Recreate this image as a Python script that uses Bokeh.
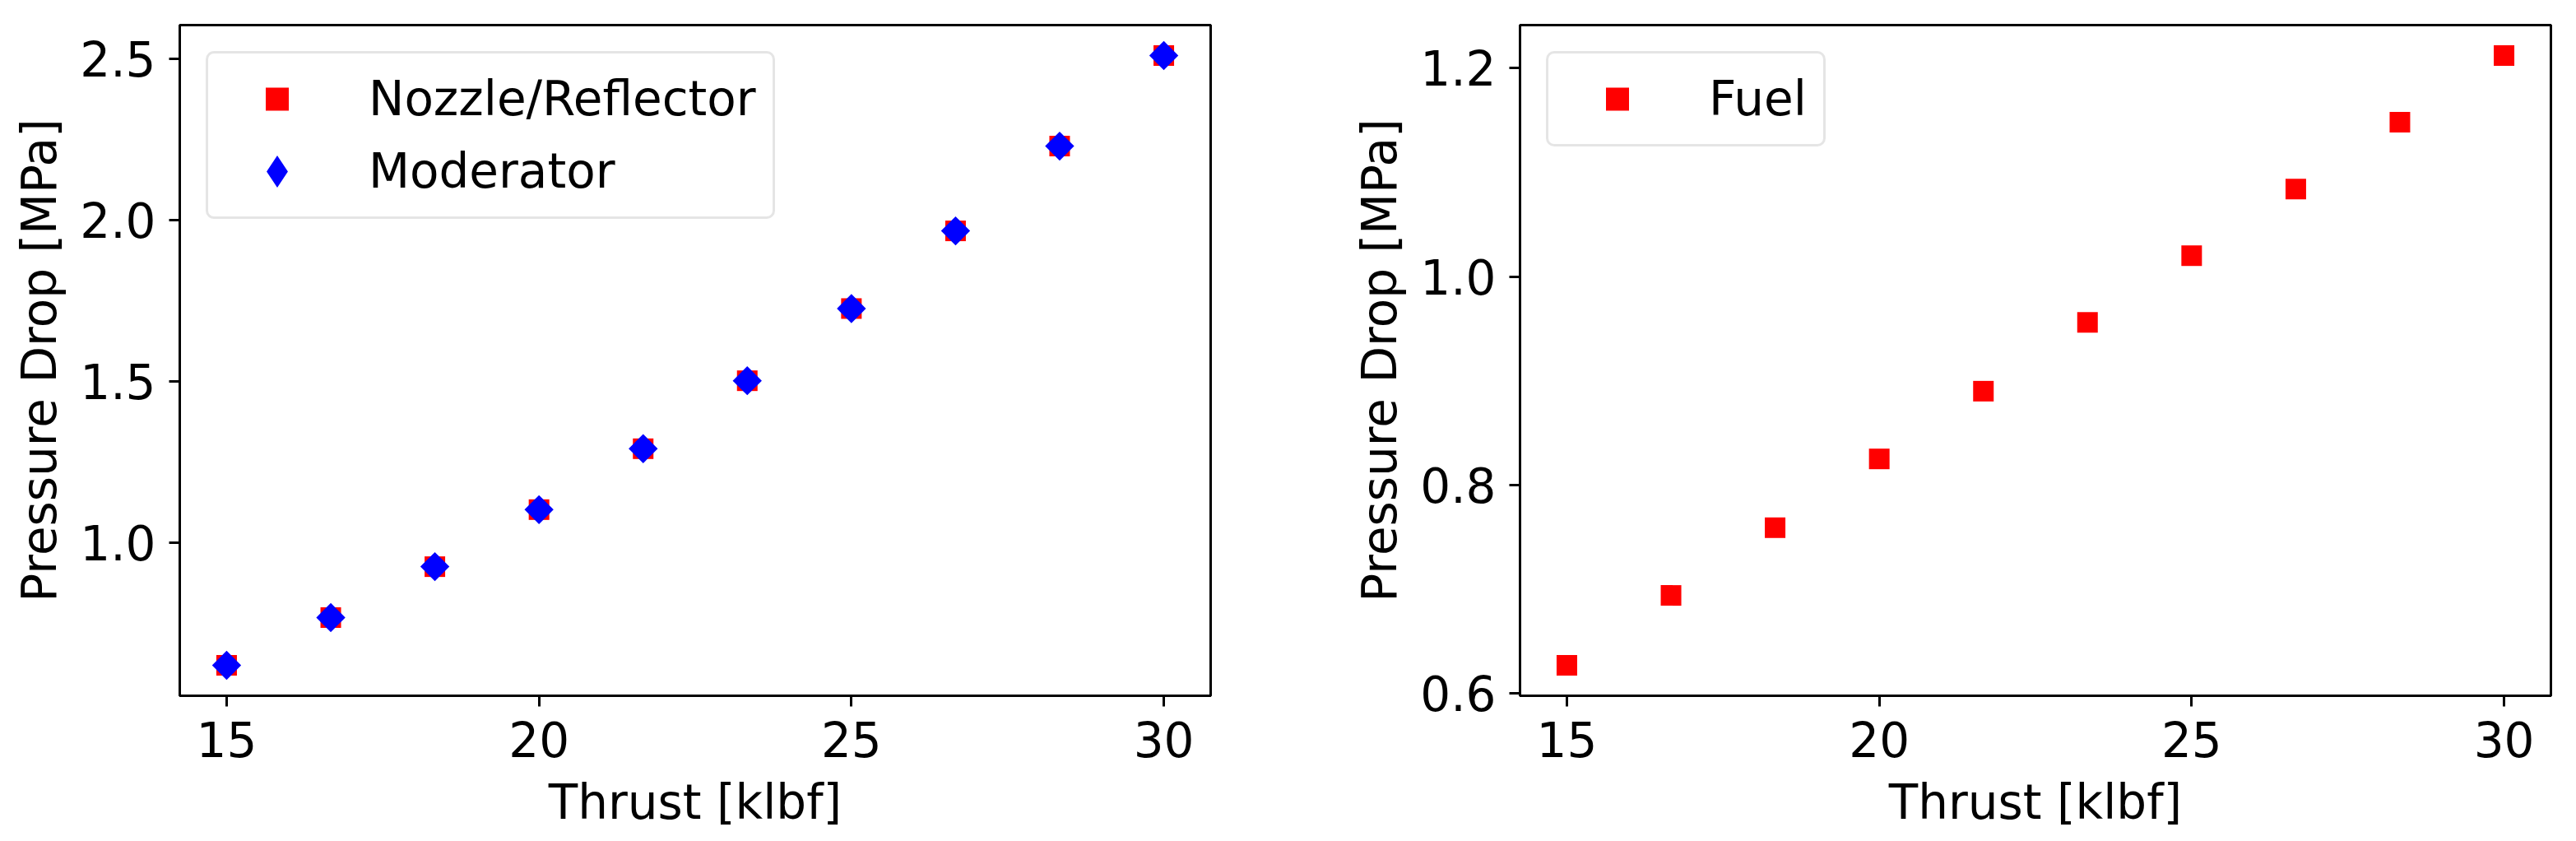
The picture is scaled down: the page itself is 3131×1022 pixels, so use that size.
import math
from bokeh.plotting import figure
from bokeh.layouts import row
from bokeh.models import (Range1d, FixedTicker, Legend, LegendItem, ColumnDataSource,
                          PrintfTickFormatter, CDSView, IndexFilter)
from bokeh.embed import file_html
from bokeh.resources import INLINE

# ---- data ----
thrust = [15.0, 16.667, 18.333, 20.0, 21.667, 23.333, 25.0, 26.667, 28.333, 30.0]
nozzle_reflector = [0.619, 0.767, 0.925, 1.102, 1.291, 1.502, 1.726, 1.967, 2.230, 2.511]
moderator = [0.619, 0.767, 0.925, 1.102, 1.291, 1.502, 1.726, 1.967, 2.230, 2.511]
fuel = [0.627, 0.694, 0.759, 0.825, 0.890, 0.956, 1.020, 1.084, 1.148, 1.212]
x_ticks = [15, 20, 25, 30]
y_ticks_left = [1.0, 1.5, 2.0, 2.5]
y_ticks_right = [0.6, 0.8, 1.0, 1.2]
x_label = "Thrust [klbf]"
y_label = "Pressure Drop [MPa]"

FONT = "DejaVu Sans"
FS = "58px"


def padded(vals, frac=0.05):
    lo, hi = min(vals), max(vals)
    d = (hi - lo) * frac
    return lo - d, hi + d


def make_fig(ylo, yhi, yticks, border_left, border_right):
    xlo, xhi = padded(thrust)
    p = figure(output_backend="svg", toolbar_location=None,
               frame_width=1253, frame_height=815,
               min_border_left=border_left, min_border_right=border_right,
               min_border_top=30, min_border_bottom=150,
               x_range=Range1d(xlo, xhi), y_range=Range1d(ylo, yhi))
    p.background_fill_color = "white"
    p.border_fill_color = "white"
    p.outline_line_color = "black"
    p.outline_line_width = 3
    p.xgrid.visible = False
    p.ygrid.visible = False
    p.xaxis.ticker = FixedTicker(ticks=x_ticks)
    p.yaxis.ticker = FixedTicker(ticks=yticks)
    p.yaxis.formatter = PrintfTickFormatter(format="%.1f")
    p.xaxis.axis_label = x_label
    p.yaxis.axis_label = y_label
    for ax in (p.xaxis, p.yaxis):
        ax.axis_line_color = "black"
        ax.axis_line_width = 3
        ax.major_tick_line_color = "black"
        ax.major_tick_line_width = 3
        ax.major_tick_out = 13
        ax.major_tick_in = 0
        ax.minor_tick_line_color = None
        ax.major_label_text_font = FONT
        ax.major_label_text_font_size = FS
        ax.major_label_text_color = "black"
        ax.axis_label_text_font = FONT
        ax.axis_label_text_font_size = FS
        ax.axis_label_text_font_style = "normal"
        ax.axis_label_text_color = "black"
    p.xaxis.major_label_standoff = 18
    p.xaxis.axis_label_standoff = 18
    p.yaxis.major_label_standoff = 16
    p.yaxis.axis_label_standoff = 12
    return p


def style_legend(leg):
    leg.location = "top_left"
    leg.margin = 32
    leg.padding = 20
    leg.spacing = 18
    leg.glyph_width = 127
    leg.glyph_height = 70
    leg.label_height = 70
    leg.label_standoff = 48
    leg.label_text_font = FONT
    leg.label_text_font_size = FS
    leg.label_text_color = "black"
    leg.border_line_color = "#cccccc"
    leg.border_line_width = 3
    leg.background_fill_color = "white"
    leg.background_fill_alpha = 0.8
    if "border_radius" in leg.properties():
        leg.border_radius = 10


# ---- left figure ----
ylo, yhi = padded(nozzle_reflector + moderator)
p1 = make_fig(ylo, yhi, y_ticks_left, 218, 81)
src1 = ColumnDataSource(dict(x=thrust, nr=nozzle_reflector, mod=moderator))
r_nr = p1.scatter("x", "nr", source=src1, marker="square", size=25,
                  fill_color="#ff0000", line_color="#ff0000", line_width=0)
# legend swatch for the diamond series (legend glyphs are never rotated);
# drawn at one real moderator point, fully covered by the rotated square below
r_mod_key = p1.scatter("x", "mod", source=src1, view=CDSView(filter=IndexFilter([0])),
                       marker="diamond", size=22,
                       fill_color="#0000ff", line_color="#0000ff", line_width=6,
                       line_join="miter")
r_mod = p1.scatter("x", "mod", source=src1, marker="square", size=25, angle=math.pi / 4,
                   fill_color="#0000ff", line_color="#0000ff", line_width=0)
leg1 = Legend(items=[LegendItem(label="Nozzle/Reflector", renderers=[r_nr]),
                     LegendItem(label="Moderator", renderers=[r_mod_key])])
style_legend(leg1)
p1.add_layout(leg1, "center")

# ---- right figure ----
ylo2, yhi2 = padded(fuel)
p2 = make_fig(ylo2, yhi2, y_ticks_right, 295, 15)
src2 = ColumnDataSource(dict(x=thrust, fuel=fuel))
r_fuel = p2.scatter("x", "fuel", source=src2, marker="square", size=25,
                    fill_color="#ff0000", line_color="#ff0000", line_width=0)
leg2 = Legend(items=[LegendItem(label="Fuel", renderers=[r_fuel])])
style_legend(leg2)
p2.add_layout(leg2, "center")

layout = row(p1, p2)
open("out.html", "w").write(file_html(layout, INLINE))
